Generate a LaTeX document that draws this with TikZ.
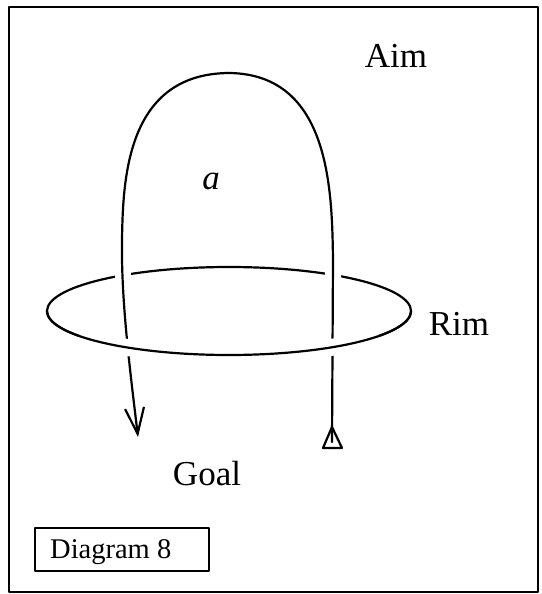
\documentclass[tikz,border=0pt]{standalone}
\usepackage{fontspec}
\setmainfont{Liberation Serif}
\usetikzlibrary{arrows.meta}
\begin{document}
\begin{tikzpicture}[x=1pt,y=-1pt, line cap=round, line join=round,
  ink/.style={line width=2.2pt},
  halo/.style={draw=white, line width=16pt, line cap=butt},
  txt/.style={font=\fontsize{35}{40}\selectfont, anchor=base, inner sep=0pt},
]
\useasboundingbox (0,0) rectangle (541,594);
\draw[line width=1.8pt] (9,7) rectangle (538,592);
% rim (full ellipse, back part will be cut by the loop)
\coordinate (rc) at (229,311);
\draw[ink] (rc) ellipse [x radius=182pt, y radius=44pt];
% loop
\coordinate (tail) at (332,442);
\coordinate (r0) at (333,310);
\coordinate (r1) at (333,260);
\coordinate (top) at (230,73);
\coordinate (l1) at (122,240);
\coordinate (l0) at (124,310);
\coordinate (tip) at (138,437);
\draw[halo] (r0) -- (r1) .. controls (332,190) and (330,75) .. (top) .. controls (126,73) and (123,180) .. (l1) -- (l0);
\draw[ink, -{Straight Barb[length=26pt,width=19pt]}] (tail) -- (r1) .. controls (332,190) and (330,75) .. (top) .. controls (126,73) and (123,180) .. (l1) .. controls (121,300) and (130,370) .. (tip);
% front of rim passes over the loop
\draw[halo, line width=17pt] plot[domain=35:145, samples=60] ({229+182*cos(\x)}, {311+44*sin(\x)});
\draw[ink] plot[domain=0:180, samples=120] ({229+182*cos(\x)}, {311+44*sin(\x)});
% tail triangle
\draw[ink] (332,427) -- (323,448) -- (342,448) -- cycle;
% labels
\node[txt] (aim) at (396,67) {Aim};
\node[txt] (rim) at (459,335) {Rim};
\node[txt] (goal) at (207,485) {Goal};
\node[txt] (a) at (211,189) {\textit{a}};
\draw[line width=1.5pt] (35,528) rectangle (209,571);
\node[font=\fontsize{28.5}{32}\selectfont, anchor=base west, inner sep=0pt] (cap) at (50,558) {Diagram 8};
\end{tikzpicture}
\end{document}
